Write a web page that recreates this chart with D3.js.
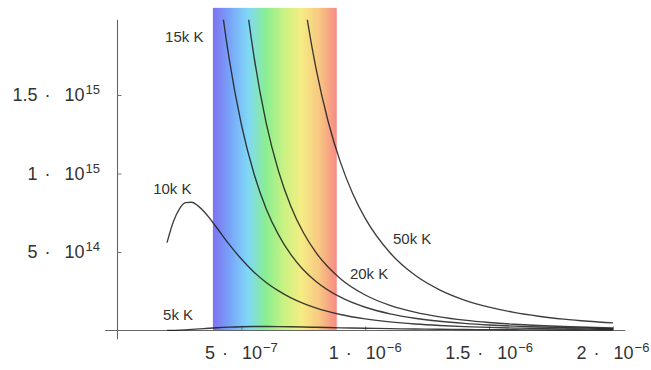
<!DOCTYPE html>
<html>
<head>
<meta charset="utf-8">
<script src="https://cdn.jsdelivr.net/npm/d3@7"></script>
<style>
  html, body { margin: 0; padding: 0; background: #fff; }
  svg { display: block; font-family: "Liberation Sans", Arial, Helvetica, sans-serif; }
</style>
</head>
<body>
<svg id="chart" width="651" height="370"></svg>
<script>
// Black-body spectral radiance curves. Wavelengths in µm, radiance in units of 1e14.
const wavelength5k  = [0.20, 0.25, 0.30, 0.35, 0.40, 0.45, 0.50, 0.55, 0.60, 0.65, 0.70, 0.75, 0.80, 0.90,
                       1.0, 1.1, 1.2, 1.3, 1.4, 1.5, 1.6, 1.7, 1.8, 1.9, 2.0];
const radiance5k    = [0.0042, 0.0245, 0.0669, 0.122, 0.175, 0.216, 0.242, 0.254, 0.255, 0.248, 0.236, 0.221, 0.205, 0.172,
                       0.142, 0.117, 0.0957, 0.0787, 0.0650, 0.0540, 0.0451, 0.0378, 0.0319, 0.0271, 0.0231];

const wavelength10k = [0.20, 0.225, 0.25, 0.275, 0.30, 0.325, 0.35, 0.40, 0.45, 0.50, 0.55, 0.60, 0.65, 0.70, 0.75, 0.80, 0.90,
                       1.0, 1.1, 1.2, 1.3, 1.4, 1.5, 1.6, 1.7, 1.8, 1.9, 2.0];
const radiance10k   = [5.60, 6.91, 7.75, 8.14, 8.17, 7.94, 7.56, 6.56, 5.50, 4.55, 3.73, 3.06, 2.52, 2.08, 1.73, 1.44, 1.02,
                       0.741, 0.548, 0.413, 0.317, 0.247, 0.195, 0.156, 0.126, 0.103, 0.085, 0.0707];

const wavelength15k = [0.40, 0.42, 0.45, 0.50, 0.55, 0.60, 0.65, 0.70, 0.75, 0.80, 0.90,
                       1.0, 1.1, 1.2, 1.3, 1.4, 1.5, 1.6, 1.7, 1.8, 1.9, 2.0];
const radiance15k   = [23.26, 20.68, 17.38, 13.12, 10.03, 7.76, 6.09, 4.83, 3.87, 3.14, 2.12,
                       1.48, 1.063, 0.782, 0.588, 0.450, 0.350, 0.277, 0.221, 0.179, 0.147, 0.121];

const wavelength20k = [0.50, 0.52, 0.55, 0.60, 0.65, 0.70, 0.75, 0.80, 0.90,
                       1.0, 1.1, 1.2, 1.3, 1.4, 1.5, 1.6, 1.7, 1.8, 1.9, 2.0];
const radiance20k   = [23.70, 20.96, 17.54, 13.22, 10.14, 7.90, 6.24, 4.99, 3.30,
                       2.262, 1.602, 1.166, 0.868, 0.659, 0.510, 0.400, 0.318, 0.257, 0.209, 0.172];

const wavelength50k = [0.75, 0.77, 0.80, 0.85, 0.90, 0.95,
                       1.0, 1.1, 1.2, 1.3, 1.4, 1.5, 1.6, 1.7, 1.8, 1.9, 2.0];
const radiance50k   = [21.46, 19.42, 16.79, 13.33, 10.71, 8.70,
                       7.14, 4.95, 3.53, 2.59, 1.94, 1.483, 1.153, 0.910, 0.727, 0.588, 0.481];

// Curve labels: text, anchor wavelength (µm), anchor radiance (1e14)
const curveLabels      = ["5k K", "10k K", "15k K", "20k K", "50k K"];
const curveLabelWl     = [0.184, 0.144, 0.192, 0.938, 1.112];
const curveLabelRad    = [0.67, 8.70, 18.39, 3.28, 5.51];

// Axis ticks
const xTickValues   = [5e-7, 1e-6, 1.5e-6, 2e-6];
const xTickMantissa = ["5", "1", "1.5", "2"];
const xTickExponent = ["-7", "-6", "-6", "-6"];
const yTickValues   = [5e14, 1e15, 1.5e15];
const yTickMantissa = ["5", "1", "1.5"];
const yTickExponent = ["14", "15", "15"];

// Visible band (m) and its colours from violet to red
const visibleBand   = [0.385e-6, 0.885e-6];
const bandColors    = ["#7e72f2", "#78a6f8", "#80d8f6", "#8aee92", "#c8f282", "#f5ec84", "#f8c882", "#f68a84"];

const UM = 1e-6, E14 = 1e14;
const series = [
  [wavelength5k, radiance5k], [wavelength10k, radiance10k], [wavelength15k, radiance15k],
  [wavelength20k, radiance20k], [wavelength50k, radiance50k]
].map(([w, r]) => w.map((v, i) => [v * UM, r[i] * E14]));

const svg = d3.select("#chart");

const x = d3.scaleLinear().domain([0, 2e-6]).range([117.5, 613]);
const y = d3.scaleLinear().domain([0, 1.5e15]).range([330.5, 95]);

const xAxisExtent = [-0.05e-6, 2.05e-6];
const yAxisExtent = [-0.055e15, 1.98e15];
const bandTop = 2.055e15;

// gradient for the visible band
const defs = svg.append("defs");
const grad = defs.append("linearGradient").attr("id", "spectrum")
  .attr("x1", "0%").attr("x2", "100%").attr("y1", "0%").attr("y2", "0%");
bandColors.forEach((c, i) => {
  grad.append("stop").attr("offset", (i / (bandColors.length - 1) * 100) + "%").attr("stop-color", c);
});
defs.append("clipPath").attr("id", "plotClip").append("rect")
  .attr("x", x(xAxisExtent[0])).attr("y", y(yAxisExtent[1]))
  .attr("width", x(xAxisExtent[1]) - x(xAxisExtent[0]))
  .attr("height", y(yAxisExtent[0]) - y(yAxisExtent[1]));

svg.append("rect")
  .attr("x", x(visibleBand[0])).attr("y", y(bandTop))
  .attr("width", x(visibleBand[1]) - x(visibleBand[0]))
  .attr("height", y(0) - y(bandTop))
  .attr("fill", "url(#spectrum)");

// axes
const xAxis = d3.axisBottom(x).tickValues(xTickValues).tickSize(-4).tickFormat("");
const yAxis = d3.axisLeft(y).tickValues(yTickValues).tickSize(-4).tickFormat("");

const gx = svg.append("g").attr("transform", `translate(0,${y(0)})`).call(xAxis);
gx.select(".domain").attr("d", `M${x(xAxisExtent[0])},0H${x(xAxisExtent[1])}`);
const gy = svg.append("g").attr("transform", `translate(${x(0)},0)`).call(yAxis);
gy.select(".domain").attr("d", `M0,${y(yAxisExtent[0])}V${y(yAxisExtent[1])}`);
[gx, gy].forEach(g => {
  g.select(".domain").attr("stroke", "#666").attr("stroke-width", 1.1);
  g.selectAll(".tick line").attr("stroke", "#777");
});

// tick labels with powers of ten
function sciLabel(sel, mant, exp) {
  sel.append("tspan").text(mant);
  sel.append("tspan").attr("dx", 7).text("·");
  sel.append("tspan").attr("dx", 14).text("10");
  sel.append("tspan").attr("dx", 1).attr("dy", -7).attr("font-size", 13).text(exp);
}
xTickValues.forEach((v, i) => {
  const t = svg.append("text").attr("x", x(v)).attr("y", 359)
    .attr("text-anchor", "middle").attr("font-size", 18).attr("fill", "#333");
  sciLabel(t, xTickMantissa[i], xTickExponent[i].replace("-", "\u2212"));
});
yTickValues.forEach((v, i) => {
  const t = svg.append("text").attr("x", 100).attr("y", y(v) + 6)
    .attr("text-anchor", "end").attr("font-size", 18).attr("fill", "#333");
  sciLabel(t, yTickMantissa[i], yTickExponent[i]);
});

// curves
const line = d3.line().x(d => x(d[0])).y(d => y(d[1])).curve(d3.curveMonotoneX);
svg.append("g").attr("clip-path", "url(#plotClip)")
  .selectAll("path").data(series).join("path")
  .attr("d", line)
  .attr("fill", "none")
  .attr("stroke", "#1c1c1c")
  .attr("stroke-opacity", 0.85)
  .attr("stroke-width", 1.35);

// curve labels
svg.append("g").selectAll("text").data(curveLabels).join("text")
  .attr("x", (d, i) => x(curveLabelWl[i] * UM))
  .attr("y", (d, i) => y(curveLabelRad[i] * E14))
  .attr("font-size", 15).attr("fill", "#333")
  .text(d => d);
</script>
</body>
</html>
